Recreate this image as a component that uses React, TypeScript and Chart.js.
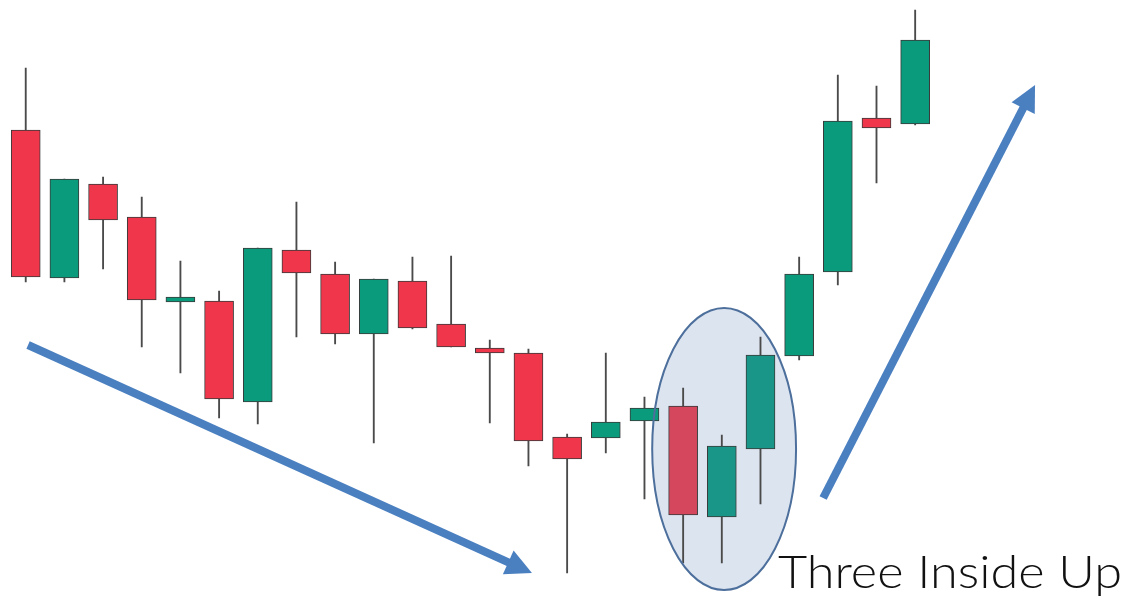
import React, { useEffect, useRef } from "react";
import { Chart, registerables } from "chart.js";

Chart.register(...registerables);

// Candles (price units), in chronological order
const labels = ["1","2","3","4","5","6","7","8","9","10","11","12","13","14","15","16","17","18","19","20","21","22","23","24"];
const opens  = [469, 321, 415, 382, 297, 298, 197, 349, 325, 265, 318, 275, 251, 246, 162, 161, 178, 193,  82, 150, 243, 327, 481, 475];
const closes = [322, 420, 379, 299, 302, 200, 351, 326, 265, 320, 271, 252, 246, 158, 140, 177, 191,  84, 153, 244, 325, 478, 471, 559];
const highs  = [531, 420, 422, 402, 338, 308, 351, 397, 337, 320, 342, 343, 259, 250, 165, 246, 202, 211, 164, 262, 342, 524, 513, 589];
const lows   = [317, 317, 330, 252, 226, 181, 175, 262, 255, 156, 270, 252, 176, 133,  26, 146, 100,  36,  36,  95, 239, 314, 416, 474];

// Highlighted pattern (indices of candles)
const patternIdx = [17, 18, 19];
const patternLabel = "Three Inside Up";

// Annotations in data units: [x index, price]
const downArrow = [[0.06, 254], [13.09, 26]];
const upArrow = [[20.62, 101], [26.1, 514]];
const ellipseCenter = [18.06, 150];
const ellipseRadii = [1.86, 141];
const labelPos = [19.45, 11];
const labelEndX = 28.35;

const UP = "#0a9a7c";
const DOWN = "#f0364a";
const UP_P = "#1a9688";
const DOWN_P = "#d4475c";
const ARROW = "#4a7fc0";

function drawArrow(ctx: CanvasRenderingContext2D, x1: number, y1: number, x2: number, y2: number) {
  const dx = x2 - x1, dy = y2 - y1;
  const len = Math.hypot(dx, dy);
  const ux = dx / len, uy = dy / len;
  const headLen = 26, headHalf = 13;
  const bx = x2 - ux * headLen, by = y2 - uy * headLen;
  ctx.save();
  ctx.strokeStyle = ARROW;
  ctx.fillStyle = ARROW;
  ctx.lineWidth = 8;
  ctx.lineCap = "butt";
  ctx.beginPath();
  ctx.moveTo(x1, y1);
  ctx.lineTo(bx + ux * 2, by + uy * 2);
  ctx.stroke();
  ctx.beginPath();
  ctx.moveTo(x2, y2);
  ctx.lineTo(bx - uy * headHalf, by + ux * headHalf);
  ctx.lineTo(bx + uy * headHalf, by - ux * headHalf);
  ctx.closePath();
  ctx.fill();
  ctx.restore();
}

function ellipseGeom(chart: any) {
  const xs = chart.scales.x, ys = chart.scales.y;
  const cx = xs.getPixelForValue(ellipseCenter[0]);
  const cy = ys.getPixelForValue(ellipseCenter[1]);
  const rx = xs.getPixelForValue(ellipseCenter[0] + ellipseRadii[0]) - cx;
  const ry = cy - ys.getPixelForValue(ellipseCenter[1] + ellipseRadii[1]);
  return { cx, cy, rx, ry };
}

const annotations = {
  id: "annotations",
  beforeDatasetsDraw(chart: any) {
    const { ctx } = chart;
    const { cx, cy, rx, ry } = ellipseGeom(chart);
    ctx.save();
    ctx.beginPath();
    ctx.ellipse(cx, cy, rx, ry, 0, 0, Math.PI * 2);
    ctx.fillStyle = "#dce4f0";
    ctx.fill();
    ctx.restore();
  },
  afterDatasetsDraw(chart: any) {
    const { ctx, scales } = chart;
    const xs = scales.x, ys = scales.y;
    const { cx, cy, rx, ry } = ellipseGeom(chart);
    ctx.save();
    ctx.beginPath();
    ctx.ellipse(cx, cy, rx, ry, 0, 0, Math.PI * 2);
    ctx.strokeStyle = "#4d6f9c";
    ctx.lineWidth = 2;
    ctx.stroke();
    ctx.restore();

    for (const a of [downArrow, upArrow]) {
      drawArrow(
        ctx,
        xs.getPixelForValue(a[0][0]), ys.getPixelForValue(a[0][1]),
        xs.getPixelForValue(a[1][0]), ys.getPixelForValue(a[1][1])
      );
    }

    const tx = xs.getPixelForValue(labelPos[0]);
    const ty = ys.getPixelForValue(labelPos[1]);
    const targetW = xs.getPixelForValue(labelEndX) - tx;
    ctx.save();
    ctx.fillStyle = "#111";
    ctx.font = "300 46px Lato";
    ctx.textAlign = "left";
    ctx.textBaseline = "alphabetic";
    const w = ctx.measureText(patternLabel).width;
    const sx = w > 0 ? targetW / w : 1;
    ctx.translate(tx, ty);
    ctx.scale(sx, 1);
    ctx.fillText(patternLabel, 0, 0);
    ctx.restore();
  },
};

export default function App() {
  const ref = useRef<HTMLCanvasElement | null>(null);
  useEffect(() => {
    if (!ref.current) return;
    const bodyColors = opens.map((o, i) => {
      const up = closes[i] > o;
      const p = patternIdx.includes(i);
      return up ? (p ? UP_P : UP) : (p ? DOWN_P : DOWN);
    });
    const chart = new Chart(ref.current, {
      type: "bar",
      data: {
        labels,
        datasets: [
          {
            label: "body",
            data: opens.map((o, i) => [o, closes[i]]) as any,
            backgroundColor: bodyColors,
            borderColor: "#3a3a3a",
            borderWidth: 1,
            borderSkipped: false,
            barThickness: 29,
            grouped: false,
          },
          {
            label: "wick",
            data: lows.map((l, i) => [l, highs[i]]) as any,
            backgroundColor: "#4a4a4a",
            borderWidth: 0,
            barThickness: 1.2,
            grouped: false,
          },
        ],
      },
      options: {
        responsive: false,
        animation: false,
        layout: { padding: { left: 6.4, right: 195.5, top: 0, bottom: 0 } },
        plugins: { legend: { display: false }, tooltip: { enabled: false } },
        scales: {
          x: { display: false },
          y: { display: false, min: 0, max: 599 },
        },
      },
      plugins: [annotations],
    });
    return () => chart.destroy();
  }, []);
  return (
    <div style={{ position: "absolute", left: 0, top: 0, width: 1130, height: 599, background: "#fff" }}>
      <canvas ref={ref} width={1130} height={599} style={{ display: "block" }} />
    </div>
  );
}
